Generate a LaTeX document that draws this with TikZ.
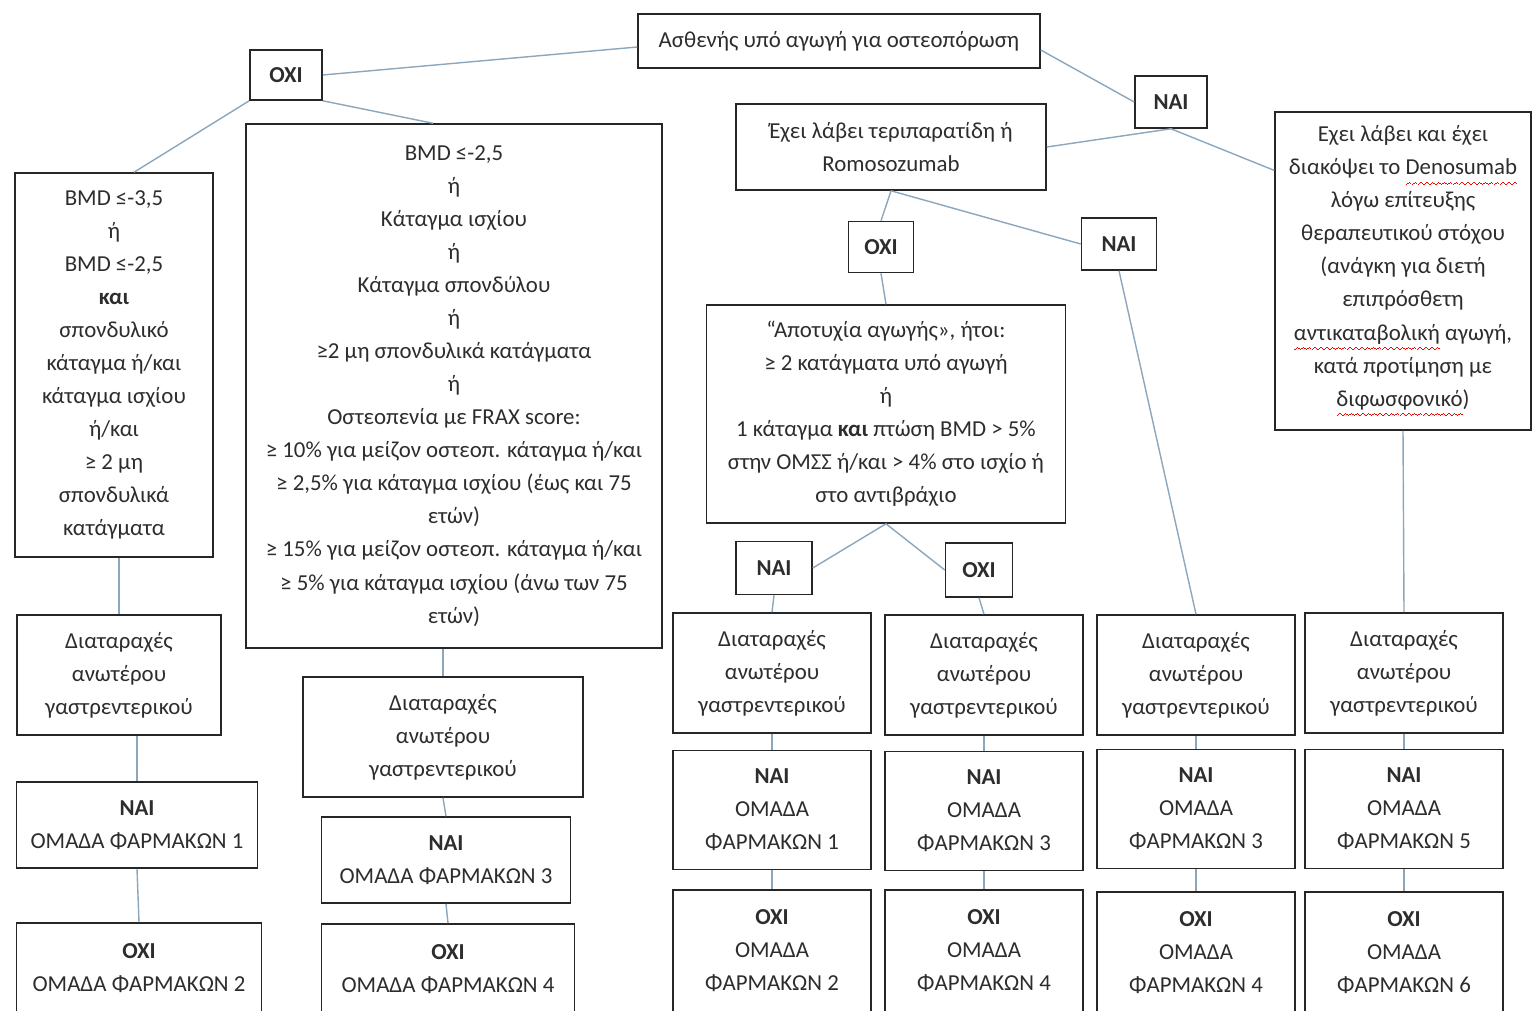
\documentclass[tikz,border=0pt]{standalone}
\usepackage{fontspec}
\setmainfont{Carlito}
\definecolor{lnk}{RGB}{140,166,188}
\definecolor{txt}{RGB}{45,45,45}
\newsavebox\spbox
\newcommand\wavebit{\hbox{\rule[-5.8pt]{0.8pt}{0.6pt}\rule[-5.2pt]{0.8pt}{0.6pt}\rule[-4.6pt]{0.8pt}{0.6pt}\rule[-5.2pt]{0.8pt}{0.6pt}}}
\newcommand\spellmark[1]{\sbox\spbox{#1}\leavevmode\rlap{\textcolor{red}{\xleaders\wavebit\hskip\wd\spbox}}#1}
\tikzset{
    qbox/.style={rectangle,draw=black!85,line width=0.9pt,fill=white,align=center,inner sep=1pt,font=\fontsize{13}{18.8}\selectfont,text=txt},
    ans/.style={qbox,font=\fontsize{13}{18.8}\selectfont\bfseries},
    conn/.style={line width=0.8pt,draw=lnk},
}
\begin{document}
\begin{tikzpicture}[x=0.02cm,y=-0.02cm]
\useasboundingbox (0,0) rectangle (1532,1011);
% top of the tree
\node[qbox,minimum width=8.04cm,minimum height=1.08cm] (root) at (839,41) {Ασθενής υπό αγωγή για οστεοπόρωση};
\node[ans,minimum width=1.44cm,minimum height=1cm] (no1) at (286,75) {ΟΧΙ};
\node[ans,minimum width=1.44cm,minimum height=1.04cm] (yes1) at (1171,102) {ΝΑΙ};
\node[qbox,minimum width=3.96cm,minimum height=7.68cm] (crit1) at (114,365) {BMD ≤-3,5\\ή\\BMD ≤-2,5\\\textbf{και}\\σπονδυλικό\\κάταγμα ή/και\\κάταγμα ισχίου\\ή/και\\≥ 2 μη\\σπονδυλικά\\κατάγματα};
\node[qbox,minimum width=8.32cm,minimum height=10.48cm] (crit2) at (454,386) {BMD ≤-2,5\\ή\\Κάταγμα ισχίου\\ή\\Κάταγμα σπονδύλου\\ή\\≥2 μη σπονδυλικά κατάγματα\\ή\\Οστεοπενία με FRAX score:\\≥ 10\% για μείζον οστεοπ. κάταγμα ή/και\\≥ 2,5\% για κάταγμα ισχίου (έως και 75\\ετών)\\≥ 15\% για μείζον οστεοπ. κάταγμα ή/και\\≥ 5\% για κάταγμα ισχίου (άνω των 75\\ετών)};
\node[qbox,minimum width=6.2cm,minimum height=1.72cm] (teri) at (891,147) {Έχει λάβει τεριπαρατίδη ή\\Romosozumab};
\node[qbox,minimum width=5.12cm,minimum height=6.36cm] (deno) at (1403,271) {Εχει λάβει και έχει\\διακόψει το \spellmark{Denosumab}\\λόγω επίτευξης\\θεραπευτικού στόχου\\(ανάγκη για διετή\\επιπρόσθετη\\\spellmark{αντικαταβολική} αγωγή,\\κατά προτίμηση με\\\spellmark{διφωσφονικό})};
\node[ans,minimum width=1.3cm,minimum height=1.02cm] (no2) at (881,247) {ΟΧΙ};
\node[ans,minimum width=1.5cm,minimum height=1.04cm] (yes2) at (1119,244) {ΝΑΙ};
\node[qbox,minimum width=7.18cm,minimum height=4.36cm] (fail) at (886,414) {“Αποτυχία αγωγής», ήτοι:\\≥ 2 κατάγματα υπό αγωγή\\ή\\1 κάταγμα \textbf{και} πτώση BMD > 5\%\\στην ΟΜΣΣ ή/και > 4\% στο ισχίο ή\\στο αντιβράχιο};
\node[ans,minimum width=1.52cm,minimum height=1.06cm] (yes3) at (774,568) {ΝΑΙ};
\node[ans,minimum width=1.34cm,minimum height=1.08cm] (no3) at (979,570) {ΟΧΙ};
% gastro boxes
\node[qbox,minimum width=4.08cm,minimum height=2.4cm] (gi1) at (119,675) {Διαταραχές\\ανωτέρου\\γαστρεντερικού};
\node[qbox,minimum width=5.6cm,minimum height=2.4cm] (gi2) at (443,737) {Διαταραχές\\ανωτέρου\\γαστρεντερικού};
\node[qbox,minimum width=3.96cm,minimum height=2.4cm] (gi3) at (772,673) {Διαταραχές\\ανωτέρου\\γαστρεντερικού};
\node[qbox,minimum width=3.96cm,minimum height=2.4cm] (gi4) at (984,675) {Διαταραχές\\ανωτέρου\\γαστρεντερικού};
\node[qbox,minimum width=3.96cm,minimum height=2.4cm] (gi5) at (1196,675) {Διαταραχές\\ανωτέρου\\γαστρεντερικού};
\node[qbox,minimum width=3.96cm,minimum height=2.4cm] (gi6) at (1404,673) {Διαταραχές\\ανωτέρου\\γαστρεντερικού};
% drug groups
\node[qbox,minimum width=4.82cm,minimum height=1.72cm] (y1) at (137,825) {\textbf{ΝΑΙ}\\ΟΜΑΔΑ ΦΑΡΜΑΚΩΝ 1};
\node[qbox,minimum width=4.9cm,minimum height=1.8cm] (n1) at (139,968) {\textbf{ΟΧΙ}\\ΟΜΑΔΑ ΦΑΡΜΑΚΩΝ 2};
\node[qbox,minimum width=4.98cm,minimum height=1.72cm] (y2) at (446,860) {\textbf{ΝΑΙ}\\ΟΜΑΔΑ ΦΑΡΜΑΚΩΝ 3};
\node[qbox,minimum width=5.06cm,minimum height=1.8cm] (n2) at (448,969) {\textbf{ΟΧΙ}\\ΟΜΑΔΑ ΦΑΡΜΑΚΩΝ 4};
\node[qbox,minimum width=3.96cm,minimum height=2.38cm] (y3) at (772,810) {\textbf{ΝΑΙ}\\ΟΜΑΔΑ\\ΦΑΡΜΑΚΩΝ 1};
\node[qbox,minimum width=3.96cm,minimum height=2.44cm] (n3) at (772,951) {\textbf{ΟΧΙ}\\ΟΜΑΔΑ\\ΦΑΡΜΑΚΩΝ 2};
\node[qbox,minimum width=3.96cm,minimum height=2.38cm] (y4) at (984,811) {\textbf{ΝΑΙ}\\ΟΜΑΔΑ\\ΦΑΡΜΑΚΩΝ 3};
\node[qbox,minimum width=3.96cm,minimum height=2.44cm] (n4) at (984,951) {\textbf{ΟΧΙ}\\ΟΜΑΔΑ\\ΦΑΡΜΑΚΩΝ 4};
\node[qbox,minimum width=3.96cm,minimum height=2.38cm] (y5) at (1196,809) {\textbf{ΝΑΙ}\\ΟΜΑΔΑ\\ΦΑΡΜΑΚΩΝ 3};
\node[qbox,minimum width=3.96cm,minimum height=2.44cm] (n5) at (1196,953) {\textbf{ΟΧΙ}\\ΟΜΑΔΑ\\ΦΑΡΜΑΚΩΝ 4};
\node[qbox,minimum width=3.96cm,minimum height=2.38cm] (y6) at (1404,809) {\textbf{ΝΑΙ}\\ΟΜΑΔΑ\\ΦΑΡΜΑΚΩΝ 5};
\node[qbox,minimum width=3.96cm,minimum height=2.44cm] (n6) at (1404,953) {\textbf{ΟΧΙ}\\ΟΜΑΔΑ\\ΦΑΡΜΑΚΩΝ 6};
% connectors
\draw[conn] ([yshift=-0.12cm]root.west) -- (no1.east); \draw[conn] (no1.south west) -- ([xshift=0.4cm]crit1.north); \draw[conn] (no1.south east) -- ([xshift=-0.42cm]crit2.north);
\draw[conn] ([yshift=-0.18cm]root.east) -- (yes1.west); \draw[conn] (yes1.south) -- (teri.east); \draw[conn] (yes1.south) -- (deno.142);
\draw[conn] (teri.south) -- (no2.north); \draw[conn] (teri.south) -- (yes2.west); \draw[conn] (no2.south) -- (fail.north);
\draw[conn] (fail.south) -- (yes3.east); \draw[conn] (fail.south) -- (no3.west);
\draw[conn] (crit1.south -| gi1.north) -- (gi1.north); \draw[conn] (gi1.south -| y1.north) -- (y1.north); \draw[conn] (y1.south) -- (n1.north);
\draw[conn] (crit2.south -| gi2.north) -- (gi2.north); \draw[conn] (gi2.south) -- (y2.north); \draw[conn] (y2.south) -- (n2.north);
\draw[conn] (yes3.south) -- (gi3.north); \draw[conn] (no3.south) -- (gi4.north); \draw[conn] (yes2.south) -- (gi5.north); \draw[conn] (deno.south) -- (gi6.north);
\draw[conn] (gi3.south) -- (y3.north); \draw[conn] (y3.south) -- (n3.north); \draw[conn] (gi4.south) -- (y4.north); \draw[conn] (y4.south) -- (n4.north);
\draw[conn] (gi5.south) -- (y5.north); \draw[conn] (y5.south) -- (n5.north); \draw[conn] (gi6.south) -- (y6.north); \draw[conn] (y6.south) -- (n6.north);
\end{tikzpicture}
\end{document}
